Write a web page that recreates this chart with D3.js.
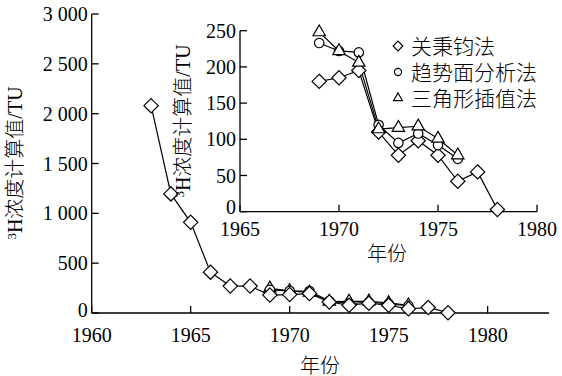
<!DOCTYPE html>
<html><head><meta charset="utf-8">
<script src="https://cdn.jsdelivr.net/npm/d3@7"></script>
<style>body{margin:0;background:#fff}svg{display:block}</style>
</head><body>
<script>
// Data
const yearsA = [1963,1964,1965,1966,1967,1968,1969,1970,1971,1972,1973,1974,1975,1976,1977,1978];
const valuesA = [2080,1195,910,410,270,270,180,185,195,110,78,98,78,42,55,3]; // 关秉钧法
const yearsB = [1969,1970,1971,1972,1973,1974,1975,1976];
const valuesB = [233,222,220,120,95,108,92,73]; // 趋势面分析法
const yearsC = [1969,1970,1971,1972,1973,1974,1975,1976];
const valuesC = [248,222,206,114,116,118,101,78]; // 三角形插值法
const seriesNames = ["关秉钧法","趋势面分析法","三角形插值法"];
const mainXTicks = [1960,1965,1970,1975,1980];
const mainYTicks = [0,500,1000,1500,2000,2500,3000];
const mainYTickLabels = ["0","500","1 000","1 500","2 000","2 500","3 000"];
const insetXTicks = [1965,1970,1975,1980];
const insetYTicks = [0,50,100,150,200,250];
const insetFirstYear = 1969;

const W=562,H=376;
const serif = "'Liberation Serif','Times New Roman','Noto Sans CJK SC',serif";
const svg = d3.select("body").append("svg").attr("width",W).attr("height",H);

const series = [
  {name:seriesNames[0], years:yearsA, values:valuesA, sym:d3.symbolDiamond2},
  {name:seriesNames[1], years:yearsB, values:valuesB, sym:d3.symbolCircle},
  {name:seriesNames[2], years:yearsC, values:valuesC, sym:d3.symbolTriangle2},
];
const symSize = {0:130, 1:70, 2:110};

function drawPanel(g, x, y, xTicks, yTicks, yLabels, labelBaseOffset, zeroDy){
  const [x0,x1]=x.range(), [y0,y1]=y.range();
  g.append("line").attr("x1",x0).attr("x2",x1).attr("y1",y0).attr("y2",y0).attr("stroke","#000").attr("stroke-width",1.3);
  g.append("line").attr("x1",x0).attr("x2",x0).attr("y1",y0).attr("y2",y1).attr("stroke","#000").attr("stroke-width",1.3);
  xTicks.forEach(t=>{
    g.append("line").attr("x1",x(t)).attr("x2",x(t)).attr("y1",y0).attr("y2",y0-7).attr("stroke","#000").attr("stroke-width",1.3);
    g.append("text").attr("x",x(t)).attr("y",y0+labelBaseOffset).attr("text-anchor","middle")
      .attr("font-family",serif).attr("font-size",20).text(t);
  });
  yTicks.forEach((t,i)=>{
    g.append("line").attr("x1",x0).attr("x2",x0+7).attr("y1",y(t)).attr("y2",y(t)).attr("stroke","#000").attr("stroke-width",1.3);
    g.append("text").attr("x",x0-4).attr("y",y(t)).attr("dy", i===0 ? zeroDy : "0.35em").attr("text-anchor","end")
      .attr("font-family",serif).attr("font-size",20).text(yLabels[i]);
  });
}

function drawSeries(g,x,y,order,minYear){
  const line = d3.line().x(d=>x(d[0])).y(d=>y(d[1]));
  const getPts = s => s.years.map((yr,j)=>[yr,s.values[j]]).filter(d=>d[0]>=minYear);
  order.forEach(i=>{
    g.append("path").attr("d",line(getPts(series[i]))).attr("fill","none").attr("stroke","#000").attr("stroke-width",1.2);
  });
  order.forEach(i=>{
    const s=series[i];
    g.selectAll(null).data(getPts(s)).enter().append("path")
      .attr("d",d3.symbol().type(s.sym).size(symSize[i]))
      .attr("transform",d=>`translate(${x(d[0])},${y(d[1])})`)
      .attr("fill","#fff").attr("stroke","#000").attr("stroke-width",1.2);
  });
}

function yTitle(cx,cy){
  const t=svg.append("text").attr("transform",`translate(${cx},${cy}) rotate(-90)`)
    .attr("text-anchor","middle").attr("dy","0.35em").attr("font-family",serif).attr("font-size",20).attr("font-weight",300);
  t.append("tspan").attr("font-size",13).attr("dy","-0.45em").text("3");
  t.append("tspan").attr("dy","0.3em").text("H浓度计算值/TU");
}

// Main panel
const xM = d3.scaleLinear().domain([1960,1983.1]).range([91.7,549]);
const yM = d3.scaleLinear().domain([0,3000]).range([313,14]);
const gM = svg.append("g");
drawPanel(gM,xM,yM,mainXTicks,mainYTicks,mainYTickLabels,29,"0.2em");
drawSeries(gM,xM,yM,[2,1,0],-Infinity);
yTitle(22,163);
svg.append("text").attr("x",320).attr("y",366).attr("dy","0.35em").attr("text-anchor","middle")
  .attr("font-family",serif).attr("font-size",20).attr("font-weight",300).text("年份");

// Inset panel
const xI = d3.scaleLinear().domain([1965,1980]).range([240,537]);
const yI = d3.scaleLinear().domain([0,250]).range([211.7,30.7]);
const gI = svg.append("g");
drawPanel(gI,xI,yI,insetXTicks,insetYTicks,insetYTicks.map(String),24,"0.1em");
drawSeries(gI,xI,yI,[0,1,2],insetFirstYear);
yTitle(190,121);
svg.append("text").attr("x",387).attr("y",254).attr("dy","0.35em").attr("text-anchor","middle")
  .attr("font-family",serif).attr("font-size",20).attr("font-weight",300).text("年份");

// Legend
const legY=[46,72,98];
const legSize={0:60,1:40,2:55};
series.forEach((s,i)=>{
  svg.append("path").attr("d",d3.symbol().type(s.sym).size(legSize[i]))
    .attr("transform",`translate(398,${legY[i]})`).attr("fill","#fff").attr("stroke","#000").attr("stroke-width",1.2);
  svg.append("text").attr("x",411).attr("y",legY[i]).attr("dy","0.36em")
    .attr("font-family",serif).attr("font-size",21).attr("font-weight",300).text(s.name);
});
</script>
</body></html>
